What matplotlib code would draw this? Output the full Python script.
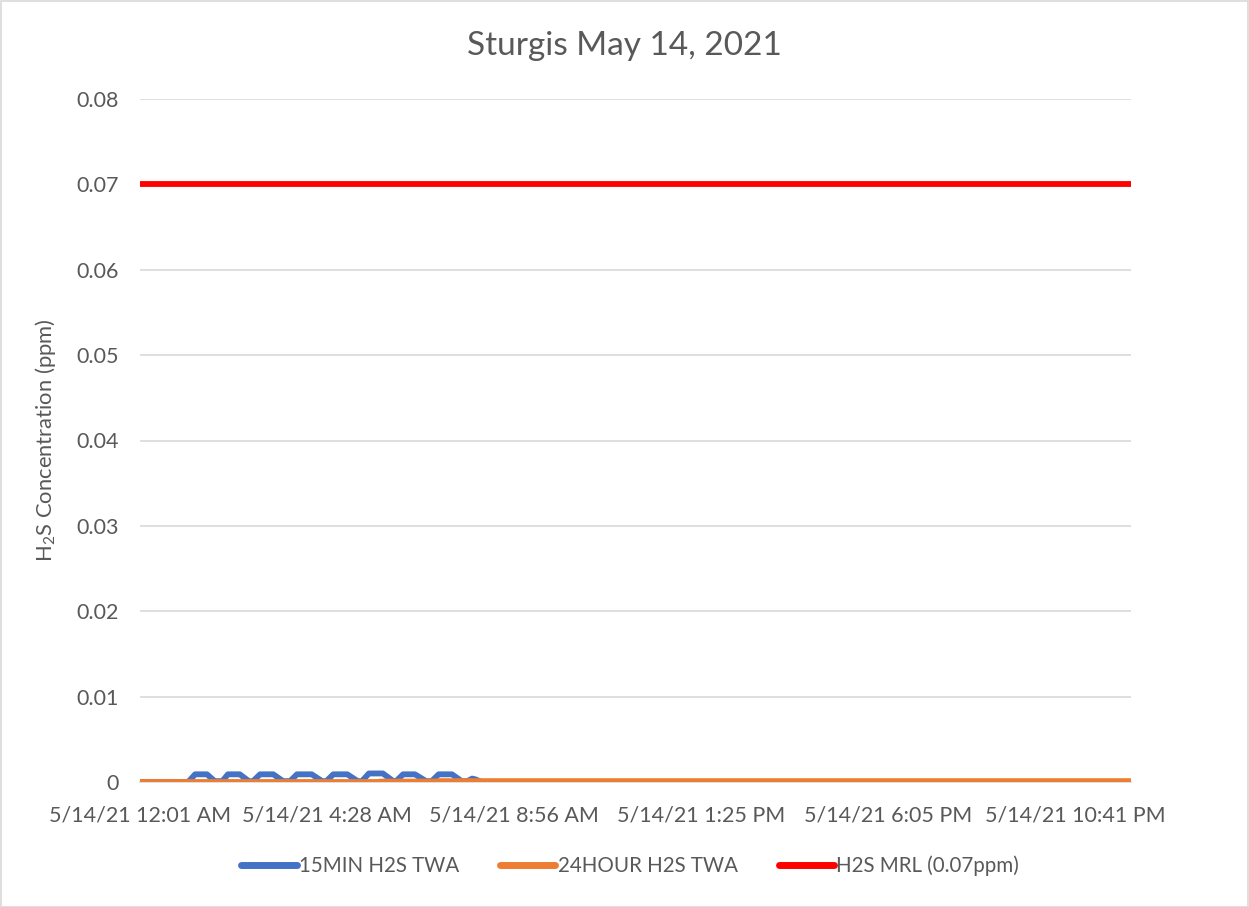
import matplotlib
matplotlib.use("Agg")
import matplotlib.pyplot as plt
from matplotlib.patches import Rectangle

plt.rcParams['font.family'] = ['Lato', 'DejaVu Sans']
plt.rcParams['mathtext.fontset'] = 'custom'
plt.rcParams['mathtext.rm'] = 'Lato'

title = "Sturgis May 14, 2021"
ylabel = r"H$_\mathregular{2}$S Concentration (ppm)"
x_tick_labels = ["5/14/21 12:01 AM", "5/14/21 4:28 AM", "5/14/21 8:56 AM",
                 "5/14/21 1:25 PM", "5/14/21 6:05 PM", "5/14/21 10:41 PM"]
tick_step = 268
n_last = 1420

# 15MIN H2S TWA (sample index, ppm) breakpoints
blue_idx = [0, 69, 79, 96, 107, 118, 126, 143, 156, 162, 172, 191, 205,
            215, 225, 246, 261, 267, 277, 297, 312, 318, 328, 348, 363,
            367, 377, 394, 410, 418, 428, 447, 461, 469, 476, 481, 489, 1420]
blue_val = [0, 0, 0.0009, 0.0009, 0.0001, 0.0001, 0.0009, 0.0009, 0.0001,
            0.0001, 0.0009, 0.0009, 0.0001, 0.0001, 0.0009, 0.0009, 0.0001,
            0.0001, 0.0009, 0.0009, 0.0001, 0.0001, 0.001, 0.001, 0.0001,
            0.0001, 0.0009, 0.0009, 0.0001, 0.0001, 0.0009, 0.0009, 0.0001,
            0.0001, 0.0004, 0.0003, 0, 0]
# 24HOUR H2S TWA
orange_idx = [0, 340, 345, 423, 428, 1420]
orange_val = [0, 0, 0.00005, 0.00005, 0.0001, 0.0001]
# H2S MRL
mrl_idx = [0, 1420]
mrl_val = [0.07, 0.07]

fig = plt.figure(figsize=(12.49, 9.07), dpi=100)
ax = fig.add_axes([140/1249, 1-782/907, (1131-140)/1249, (782-99)/907])

txt = '#595959'
ax.plot(blue_idx, blue_val, color='#4472C4', lw=4.2, solid_joinstyle='round',
        solid_capstyle='round', label='15MIN H2S TWA', zorder=3)
ax.plot(orange_idx, orange_val, color='#ED7D31', lw=4.2, solid_capstyle='butt',
        label='24HOUR H2S TWA', zorder=4)
ax.plot(mrl_idx, mrl_val, color='#FF0000', lw=4.2, solid_capstyle='butt',
        label='H2S MRL (0.07ppm)', zorder=5)

ax.set_xlim(0, n_last)
ax.set_ylim(0, 0.08)
ax.set_yticks([i/100 for i in range(9)])
ax.set_yticklabels(['0'] + [f'{i/100:.2f}' for i in range(1, 9)])
ax.set_xticks([i*tick_step for i in range(len(x_tick_labels))])
ax.set_xticklabels(x_tick_labels)
ax.tick_params(axis='both', length=0, labelsize=15.5, colors=txt)
ax.tick_params(axis='y', pad=15)
ax.tick_params(axis='x', pad=17)
ax.grid(axis='y', color='#d9d9d9', lw=1.2)
ax.set_axisbelow(True)
for s in ['top', 'right', 'left']:
    ax.spines[s].set_visible(False)
ax.spines['bottom'].set_color('#d9d9d9')
ax.spines['bottom'].set_linewidth(1.2)

ax.set_ylabel(ylabel, fontsize=15.8, color=txt)
ax.yaxis.set_label_coords(-(140-58)/991, 0.5)
fig.text(624/1249, 1-46/907, title, ha='center', va='center', fontsize=24, color=txt)

leg = fig.legend(loc='center', bbox_to_anchor=(630/1249, 1-866/907), ncol=3,
                 frameon=False, fontsize=14.8, handlelength=2.7, handletextpad=0.1,
                 columnspacing=2.0)
for t in leg.get_texts():
    t.set_color(txt)
for h in leg.get_lines():
    h.set_linewidth(5)
    h.set_solid_capstyle('round')

fig.patches.append(Rectangle((0.5/1249, 0.5/907), 1-1.5/1249, 1-1.5/907,
                             transform=fig.transFigure, fill=False,
                             edgecolor='#d9d9d9', lw=1.2))
fig.savefig('out.png', dpi=100)
